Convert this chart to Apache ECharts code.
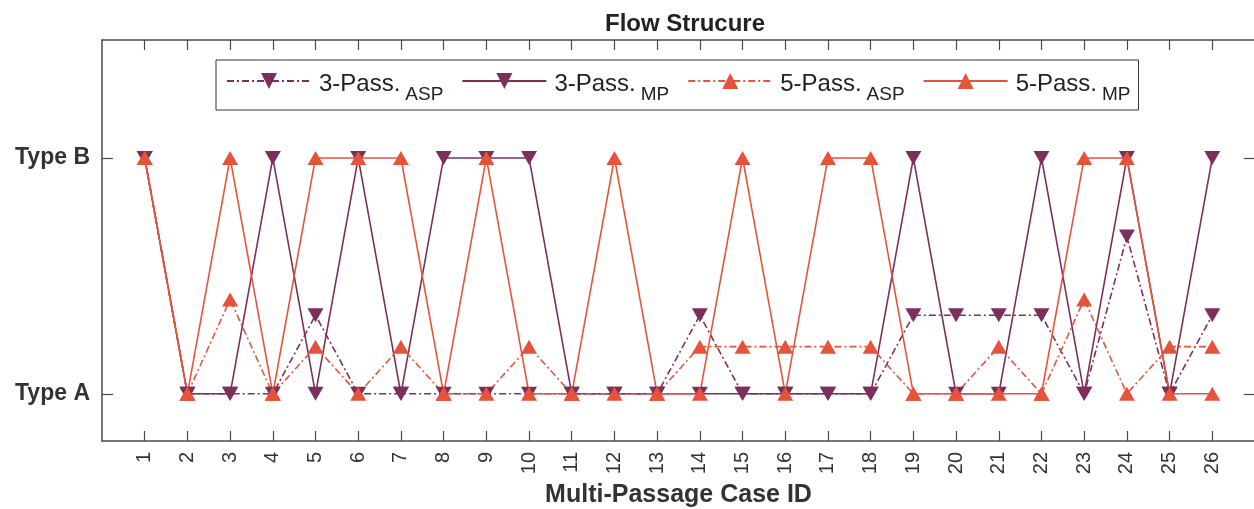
<!DOCTYPE html>
<html>
<head>
<meta charset="utf-8">
<script src="https://cdn.jsdelivr.net/npm/echarts@6/dist/echarts.min.js"></script>
<style>
html,body{margin:0;padding:0;background:#fff;}
#chart{width:1254px;height:509px;}
</style>
</head>
<body>
<div id="chart"></div>
<script>
// ---- data ----
const caseIds = [1,2,3,4,5,6,7,8,9,10,11,12,13,14,15,16,17,18,19,20,21,22,23,24,25,26];
const yTickValues = [0, 1];
const yTickLabels = ['Type A', 'Type B'];
const pass3ASP = [1,0,0,0,1/3,0,0,0,0,0,0,0,0,1/3,0,0,0,0,1/3,1/3,1/3,1/3,0,2/3,0,1/3];
const pass3MP  = [1,0,0,1,0,1,0,1,1,1,0,0,0,0,0,0,0,0,1,0,0,1,0,1,0,1];
const pass5ASP = [1,0,0.4,0,0.2,0,0.2,0,0,0.2,0,0,0,0.2,0.2,0.2,0.2,0.2,0,0,0.2,0,0.4,0,0.2,0.2];
const pass5MP  = [1,0,1,0,1,1,1,0,1,0,0,1,0,0,1,0,1,1,0,0,0,0,1,1,0,0];
const seriesNames = ['3-Pass.ASP','3-Pass.MP','5-Pass.ASP','5-Pass.MP'];

const purple = '#7D2E5A';
const orange = '#E5533B';
const axisColor = '#4a4a4a';
const font = 'Liberation Sans, Arial, Helvetica, sans-serif';
const dashDot = [7,3,2,3];

function pairs(vals){ return caseIds.map((c,i)=>[c, vals[i]]); }

function mkSeries(name, vals, color, dashed, down){
  return {
    name: name,
    type: 'line',
    data: pairs(vals),
    symbol: 'triangle',
    symbolSize: [16, 14],
    symbolRotate: down ? 180 : 0,
    showAllSymbol: true,
    lineStyle: {color: color, width: 1.6, type: dashed ? dashDot : 'solid'},
    itemStyle: {color: color},
    emphasis: {disabled: true},
    animation: false
  };
}

const chart = echarts.init(document.getElementById('chart'), null, {renderer:'canvas'});
const axisLine = {show:true, onZero:false, lineStyle:{color:axisColor, width:1.5}};
const tickStyle = {color:axisColor, width:1.2};
const option = {
  backgroundColor: '#fff',
  animation: false,
  title: {
    text: 'Flow Strucure',
    left: 680, top: 7, textAlign: 'center',
    textStyle: {fontFamily: font, fontWeight: 'bold', fontSize: 24, color: '#222'}
  },
  legend: {
    data: seriesNames,
    left: 216, top: 60,
    orient: 'horizontal',
    padding: [8, 8, 6, 10],
    itemWidth: 84, itemHeight: 20, itemGap: 18,
    borderColor: '#333', borderWidth: 1,
    backgroundColor: '#fff',
    formatter: function(n){
      const p = n.split('.');
      return '{a|' + p[0] + '.}{b|' + p[1] + '}';
    },
    textStyle: {
      fontFamily: font, color: '#222',
      rich: {
        a: {fontFamily: font, fontSize: 24, color: '#222', verticalAlign: 'top', lineHeight: 26, padding:[4,0,0,3]},
        b: {fontFamily: font, fontSize: 19, color: '#222', verticalAlign: 'top', lineHeight: 19, padding:[17,0,0,5]}
      }
    }
  },
  grid: {left: 102, right: -1, top: 40, height: 401, containLabel: false, outerBoundsMode: 'none'},
  xAxis: [{
    type: 'value', min: 0, max: 27, position: 'bottom',
    axisLine: axisLine,
    splitLine: {show:false},
    axisTick: {show:true, inside:true, length:10, customValues: caseIds, lineStyle: tickStyle},
    axisLabel: {customValues: caseIds, rotate: 90, margin: 11, fontFamily: font, fontSize: 20, color: '#333'},
    name: 'Multi-Passage Case ID', nameLocation: 'middle', nameGap: 42,
    nameTextStyle: {fontFamily: font, fontWeight:'bold', fontSize: 25, color:'#333'}
  },{
    type: 'value', min: 0, max: 27, position: 'top',
    axisLine: axisLine,
    splitLine: {show:false},
    axisTick: {show:true, inside:true, length:10, customValues: caseIds, lineStyle: tickStyle},
    axisLabel: {show:false}
  }],
  yAxis: [{
    type: 'value', min: -0.2, max: 1.5, position: 'left',
    axisLine: axisLine,
    splitLine: {show:false},
    axisTick: {show:true, inside:true, length:11, customValues: yTickValues, lineStyle: tickStyle},
    axisLabel: {customValues: yTickValues, margin: 12, fontFamily: font, fontWeight:'bold', fontSize: 23, color:'#333',
      formatter: function(v){ const i = yTickValues.indexOf(Math.round(v)); return i>=0 ? yTickLabels[i] : ''; }}
  },{
    type: 'value', min: -0.2, max: 1.5, position: 'right',
    axisLine: axisLine,
    splitLine: {show:false},
    axisTick: {show:true, inside:true, length:11, customValues: yTickValues, lineStyle: tickStyle},
    axisLabel: {show:false}
  }],
  series: [
    mkSeries(seriesNames[0], pass3ASP, purple, true, true),
    mkSeries(seriesNames[1], pass3MP, purple, false, true),
    mkSeries(seriesNames[2], pass5ASP, orange, true, false),
    mkSeries(seriesNames[3], pass5MP, orange, false, false)
  ]
};
chart.setOption(option);
</script>
</body>
</html>
